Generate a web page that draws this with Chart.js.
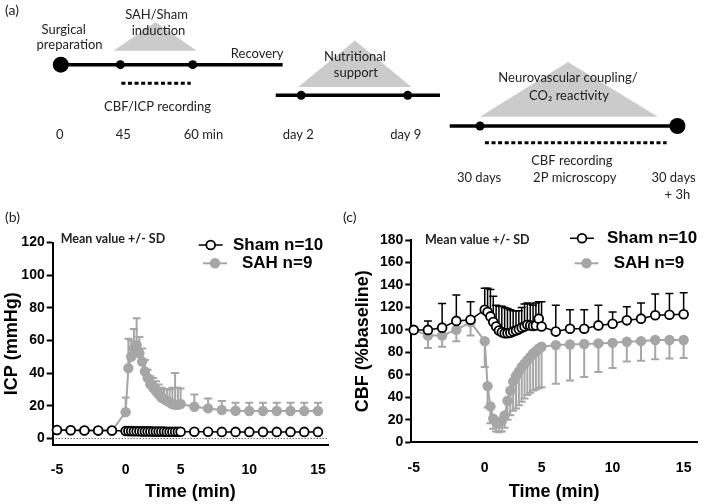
<!DOCTYPE html>
<html>
<head>
<meta charset="utf-8">
<script src="https://cdn.jsdelivr.net/npm/chart.js@4.4.1/dist/chart.umd.min.js"></script>
<style>
  html, body { margin: 0; padding: 0; background: #fff; }
  #page { position: relative; width: 704px; height: 504px; overflow: hidden; }
  #page canvas { position: absolute; }
  .tag { position: absolute; font: 14px Lato, sans-serif; color: #222; line-height: 17px; }
</style>
</head>
<body>
<div id="page">
  <canvas id="timeline" width="704" height="225" style="left:0;top:0"></canvas>
  <canvas id="icp" width="352" height="279" style="left:0;top:225px"></canvas>
  <canvas id="cbf" width="352" height="279" style="left:352px;top:225px"></canvas>
  <div class="tag" style="left:5px;top:1px">(a)</div>
  <div class="tag" style="left:5px;top:208px">(b)</div>
  <div class="tag" style="left:343px;top:208px">(c)</div>
</div>
<script>
/* ===== DATA ===== */
// sample times (min): 1-min steps before/after, 15-s steps during the first 5 min
const minutes = [-5, -4, -3, -2, -1,
  0, 0.25, 0.5, 0.75, 1, 1.25, 1.5, 1.75, 2, 2.25, 2.5, 2.75, 3, 3.25, 3.5, 3.75, 4, 4.25, 4.5, 4.75,
  5, 6, 7, 8, 9, 10, 11, 12, 13, 14, 15];
const timeTicks = [-5, 0, 5, 10, 15];

// (b) ICP, mmHg
const icpSham = [5.1, 4.9, 4.8, 4.7, 4.7,
  4.5, 4.4, 4.4, 4.3, 4.3, 4.3, 4.2, 4.2, 4.2, 4.2, 4.1, 4.1, 4.1, 4.1, 4.1, 4.0, 4.0, 4.0, 4.0, 4.0,
  4.0, 4.0, 4.0, 3.9, 3.9, 3.9, 3.9, 3.9, 3.9, 3.9, 3.9];
const icpShamSd = [1.2, 1.1, 1, 1, 1.1,
  1, 1, 1, 1, 1, 1, 1, 1, 1, 1, 1, 1, 1, 1, 1, 1, 1, 1, 1, 1,
  0.9, 0.9, 0.9, 0.9, 0.9, 0.9, 0.9, 0.9, 0.9, 0.9, 0.9];
const icpSah = [5.1, 4.9, 4.8, 4.7, 4.7,
  16, 43, 50, 55, 57, 52, 47, 41, 37, 33, 31, 29, 27, 25, 24, 23, 22, 21, 20.5, 20.5,
  21, 19.3, 18.3, 17.3, 16.9, 16.7, 16.7, 16.7, 16.7, 16.7, 16.7];
const icpSahSd = [1, 1, 1, 1, 1,
  9, 18, 10, 12, 16.5, 10, 8, 7, 5, 5, 6, 6, 6, 6, 6, 7, 8, 10, 19.5, 10.5,
  9.5, 7.6, 6.1, 5.5, 4.9, 5.1, 5.1, 5.1, 5.1, 5.1, 5.1];
const icpTicks = [0, 20, 40, 60, 80, 100, 120];

// (c) CBF, % baseline
const cbfSham = [100, 100, 102, 108, 109,
  118, 116, 112, 107, 103, 99.5, 98, 97, 97, 97.5, 98.5, 99.5, 100.5, 102, 103, 104.5, 104, 103.5, 104, 110,
  103, 98.5, 101, 101, 104, 105.5, 108.5, 110, 113, 113.5, 114];
const cbfShamSd = [0, 8, 21.5, 23, 16,
  19, 21, 24, 23, 19, 21.5, 23, 23, 22, 20.5, 18.5, 17.5, 16.5, 18, 20, 19.5, 19, 18.5, 20, 15,
  22, 23.5, 17, 17, 18, 10.5, 12, 14, 19, 19, 19];
const cbfSah = [100, 95, 95, 100, 107,
  90, 50, 32, 21, 18, 17, 19, 24, 37, 46, 54, 59, 63, 67, 70, 73, 76, 79, 81, 83.5,
  85, 86.5, 87, 87.5, 88, 88.5, 89.5, 90, 91, 91, 91];
const cbfSahSd = [0, 11, 10, 10, 12,
  23, 19, 15, 9, 8.5, 8, 9.5, 11, 17, 22, 26, 29, 30, 31, 31, 31, 32, 33, 34, 35.5,
  36, 34.5, 32, 29.5, 25.5, 22.5, 17.5, 17.5, 17, 16.5, 16];
const cbfTicks = [0, 20, 40, 60, 80, 100, 120, 140, 160, 180];

// (a) protocol timeline, diagram units (x 0-704 left to right, y 0-225 top down)
const tlSegments = [[[54, 61], [281, 61]], [[274, 94], [442, 94]], [[452, 127], [684, 127]]];
const tlDots = [[54, 61, 8], [115, 61, 4.5], [189, 61, 4.5], [300, 94, 4.5], [409, 94, 4.5], [483, 127, 4.5], [685, 127, 8]];
const tlDotted = [[116, 187, 81], [488, 674, 145]];
const tlTriangles = [[108, 151, 193, 15, 46], [297, 355, 413, 35, 85], [483, 573, 665, 58, 117]];
const tlLabels = [
  ['Surgical', 57, 23], ['preparation', 63, 39.5],
  ['SAH/Sham', 152, 7.5], ['induction', 154, 25],
  ['CBF/ICP recording', 153, 106],
  ['0', 53, 137], ['45', 118, 137], ['60 min', 200, 137],
  ['Recovery', 255, 49],
  ['Nutritional', 355, 53], ['support', 356, 69.5],
  ['day 2', 297, 137], ['day 9', 407, 137],
  ['Neurovascular coupling/', 573, 75], ['CO\u2082 reactivity', 574, 94],
  ['CBF recording', 577, 165], ['2P microscopy', 580, 183],
  ['30 days', 482, 183], ['30 days', 681, 183], ['+ 3h', 685, 201]
];

const GREY = '#a6a6a6';

/* ===== time axis with the 0-5 min stretch drawn narrower ===== */
class BrokenTimeScale extends Chart.LinearScale {
  static id = 'brokenTime';
  static defaults = {};
  warp(v) {
    const s = this.options.squeeze;
    if (v <= s.from) return v;
    if (v <= s.to) return s.from + (v - s.from) * s.weight / (s.to - s.from);
    return v - (s.to - s.from) + s.weight;
  }
  getPixelForValue(v) {
    if (v === null || v === undefined) return NaN;
    const a = this.warp(this.min), b = this.warp(this.max);
    return this.getPixelForDecimal((this.warp(v) - a) / (b - a));
  }
  getValueForPixel(p) {
    const s = this.options.squeeze;
    const a = this.warp(this.min), b = this.warp(this.max);
    const u = a + this.getDecimalForPixel(p) * (b - a);
    if (u <= s.from) return u;
    if (u <= s.from + s.weight) return s.from + (u - s.from) * (s.to - s.from) / s.weight;
    return u + (s.to - s.from) - s.weight;
  }
}
Chart.register(BrokenTimeScale);

/* ===== plugins ===== */
const errorBars = {
  id: 'errorBars',
  beforeDatasetDraw(chart, args) {
    const ds = chart.data.datasets[args.index];
    if (!ds.sd) return;
    const y = chart.scales.y, ctx = chart.ctx;
    ctx.save();
    ctx.strokeStyle = ds.borderColor;
    ctx.lineWidth = ds.errWidth;
    args.meta.data.forEach((pt, i) => {
      const e = ds.sd[i];
      if (!e) return;
      const yEnd = y.getPixelForValue(ds.data[i].y + ds.errDir * e);
      ctx.beginPath();
      ctx.moveTo(pt.x, pt.y); ctx.lineTo(pt.x, yEnd);
      ctx.moveTo(pt.x - 4, yEnd); ctx.lineTo(pt.x + 4, yEnd);
      ctx.stroke();
    });
    ctx.restore();
  }
};

const sideLegend = {
  id: 'sideLegend',
  afterDraw(chart, args, opts) {
    const ctx = chart.ctx;
    opts.items.forEach((it, i) => {
      const ds = chart.data.datasets[i];
      ctx.save();
      ctx.strokeStyle = ds.borderColor; ctx.lineWidth = ds.borderWidth;
      ctx.beginPath(); ctx.moveTo(it.x - 12, it.y); ctx.lineTo(it.x + 12, it.y); ctx.stroke();
      ctx.beginPath(); ctx.arc(it.x, it.y, ds.pointRadius, 0, Math.PI * 2);
      ctx.fillStyle = ds.pointBackgroundColor; ctx.fill();
      if (ds.pointBorderWidth) { ctx.lineWidth = ds.pointBorderWidth; ctx.strokeStyle = ds.pointBorderColor; ctx.stroke(); }
      ctx.fillStyle = '#000';
      ctx.font = 'bold 17px "Liberation Sans", Arial, sans-serif';
      ctx.textBaseline = 'middle';
      ctx.fillText(ds.label, it.tx, it.y);
      ctx.restore();
    });
  }
};

const note = {
  id: 'note',
  afterDraw(chart, args, opts) {
    const ctx = chart.ctx;
    ctx.save();
    ctx.fillStyle = '#222';
    ctx.font = 'bold 12.5px Lato, sans-serif';
    ctx.textBaseline = 'middle';
    ctx.fillText('Mean value +/- SD', opts.x, opts.y);
    ctx.restore();
  }
};

const zeroLine = {
  id: 'zeroLine',
  beforeDatasetsDraw(chart, args, opts) {
    if (!opts.show) return;
    const { ctx, chartArea } = chart;
    const y0 = Math.round(chart.scales.y.getPixelForValue(0)) + 0.5;
    ctx.save();
    ctx.strokeStyle = '#333'; ctx.lineWidth = 1; ctx.setLineDash([1, 2]);
    ctx.beginPath(); ctx.moveTo(chartArea.left, y0); ctx.lineTo(chartArea.right, y0); ctx.stroke();
    ctx.restore();
  }
};

const diagramText = {
  id: 'diagramText',
  afterDatasetsDraw(chart) {
    const { ctx, scales: { x, y } } = chart;
    ctx.save();
    ctx.fillStyle = '#222';
    ctx.font = '13px Lato, sans-serif';
    ctx.textAlign = 'center';
    ctx.textBaseline = 'middle';
    tlLabels.forEach(([t, lx, ly]) => ctx.fillText(t, x.getPixelForValue(lx), y.getPixelForValue(ly)));
    ctx.restore();
  }
};

/* ===== (a) timeline ===== */
new Chart(document.getElementById('timeline'), {
  type: 'line',
  data: {
    datasets: [
      { type: 'scatter', data: tlDots.map(d => ({ x: d[0], y: d[1] })), pointRadius: tlDots.map(d => d[2]),
        pointBackgroundColor: '#000', pointBorderWidth: 0, clip: false },
      ...tlSegments.map(s => ({ data: s.map(p => ({ x: p[0], y: p[1] })), borderColor: '#000', borderWidth: 3.5, pointRadius: 0 })),
      ...tlDotted.map(d => ({ data: [{ x: d[0], y: d[2] }, { x: d[1], y: d[2] }], borderColor: '#000', borderWidth: 3,
        borderDash: [4, 2.6], borderCapStyle: 'butt', pointRadius: 0 })),
      ...tlTriangles.map(t => ({ data: [{ x: t[0], y: t[4] }, { x: t[1], y: t[3] }, { x: t[2], y: t[4] }],
        borderWidth: 0, borderColor: 'rgba(0,0,0,0)', backgroundColor: '#cbcbcb', fill: { value: t[4] }, pointRadius: 0 }))
    ]
  },
  options: {
    responsive: false, animation: false, events: [],
    layout: { padding: 0 },
    plugins: { legend: { display: false }, tooltip: { enabled: false } },
    scales: {
      x: { type: 'linear', min: 0, max: 704, display: false },
      y: { type: 'linear', min: 0, max: 225, reverse: true, display: false }
    }
  },
  plugins: [diagramText]
});

/* ===== (b) and (c) ===== */
const tickFont = { family: '"Liberation Sans", Arial, sans-serif', size: 14, weight: 'bold' };
const titleFont = { family: '"Liberation Sans", Arial, sans-serif', size: 18, weight: 'bold' };

function panelChart(el, o) {
  return new Chart(el, {
    type: 'line',
    data: {
      datasets: [
        { label: 'Sham n=10', data: minutes.map((t, i) => ({ x: t, y: o.sham[i] })), sd: o.shamSd, errDir: 1, errWidth: 1.5,
          borderColor: '#000', borderWidth: 1.5, pointRadius: 4.4, pointBorderWidth: 1.8,
          pointBackgroundColor: '#fff', pointBorderColor: '#000', clip: false },
        { label: 'SAH n=9', data: minutes.map((t, i) => ({ x: t, y: o.sah[i] })), sd: o.sahSd, errDir: o.sahDir, errWidth: 2,
          borderColor: GREY, borderWidth: 2, pointRadius: 5.2, pointBorderWidth: 0,
          pointBackgroundColor: GREY, pointBorderColor: GREY, clip: false }
      ]
    },
    options: {
      responsive: false, animation: false, events: [],
      layout: { padding: { top: o.top, right: o.right, left: 0, bottom: 0 } },
      plugins: {
        legend: { display: false }, tooltip: { enabled: false },
        sideLegend: { items: o.legend }, note: o.note, zeroLine: { show: o.zeroLine }
      },
      scales: {
        x: {
          type: 'brokenTime', squeeze: { from: 0, to: 5, weight: 4 }, min: o.xMin, max: o.xMax,
          afterBuildTicks: s => { s.ticks = timeTicks.map(v => ({ value: v })); },
          afterFit: s => { s.height = o.xHeight; },
          grid: { display: false }, border: { display: true, color: '#000', width: 2 },
          ticks: { color: '#000', font: tickFont, padding: 9, maxRotation: 0, autoSkip: false, callback: v => String(v) },
          title: { display: true, text: 'Time (min)', color: '#000', font: titleFont, padding: { top: 0, bottom: 1.5 } }
        },
        y: {
          min: o.yMin, max: o.yMax,
          afterBuildTicks: s => { s.ticks = o.yTicks.map(v => ({ value: v })); },
          afterFit: s => { s.width = o.yWidth; },
          grid: { drawOnChartArea: false, drawTicks: true, tickLength: 6, tickWidth: 2, tickColor: '#000' },
          border: { color: '#000', width: 2 },
          ticks: { color: '#000', font: tickFont, padding: 2, callback: v => String(v) },
          title: { display: true, text: o.yTitle, color: '#000', font: titleFont, padding: { top: o.yTitlePad, bottom: 0 } }
        }
      }
    },
    plugins: [errorBars, sideLegend, note, zeroLine]
  });
}

panelChart(document.getElementById('icp'), {
  sham: icpSham, shamSd: icpShamSd, sah: icpSah, sahSd: icpSahSd, sahDir: 1,
  yMin: -4, yMax: 120, yTicks: icpTicks, yTitle: 'ICP (mmHg)', yTitlePad: 1,
  xMin: -5.31, xMax: 15.73, top: 17.5, right: 24, yWidth: 52.7, xHeight: 59.2,
  zeroLine: true, note: { x: 60.7, y: 14.3 },
  legend: [{ x: 210.7, y: 20, tx: 233 }, { x: 215, y: 38.3, tx: 242 }]
});

panelChart(document.getElementById('cbf'), {
  sham: cbfSham, shamSd: cbfShamSd, sah: cbfSah, sahSd: cbfSahSd, sahDir: -1,
  yMin: 0, yMax: 180, yTicks: cbfTicks, yTitle: 'CBF (%baseline)', yTitlePad: 0,
  xMin: -5.17, xMax: 15.94, top: 15, right: 7, yWidth: 59.3, xHeight: 61.7,
  zeroLine: false, note: { x: 73, y: 15 },
  legend: [{ x: 230, y: 13.3, tx: 255 }, { x: 234.5, y: 38.3, tx: 261.7 }]
});
</script>
</body>
</html>
